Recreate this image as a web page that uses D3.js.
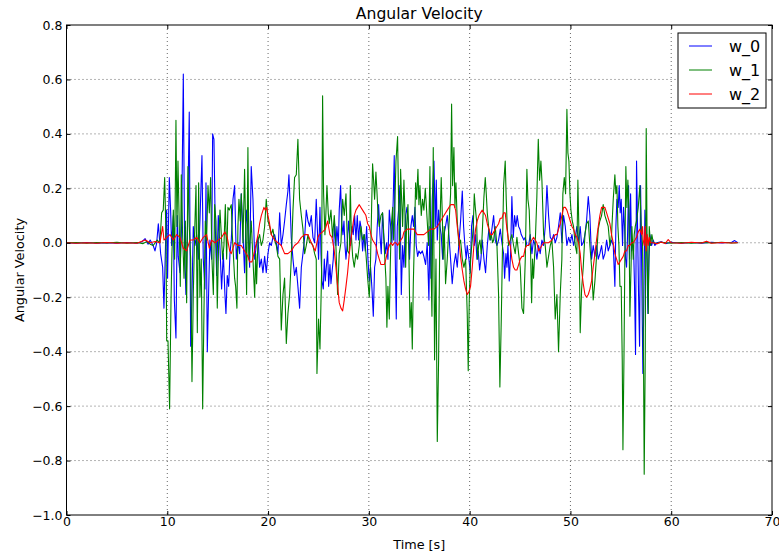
<!DOCTYPE html>
<html>
<head>
<meta charset="utf-8">
<script src="https://cdn.jsdelivr.net/npm/d3@7"></script>
<style>
  body { margin: 0; background: #fff; }
  text { font-family: "DejaVu Sans", sans-serif; fill: #000; }
</style>
</head>
<body>
<div id="chart"></div>
<script>
// Angular velocity samples, [time (s), value]
const w0Data = [
  [0,0.0],[1,-0.002],[2,0.001],[3,-0.002],[4,0.0],[5,-0.002],[6,0.001],[7,-0.002],[7.5,0.004],[7.8,0.015],[8.1,-0.005],[8.3,0.01],[8.6,-0.01],[8.78,-0.03],[8.95,0.0],
  [9.11,0.07],[9.34,-0.04],[9.54,-0.09],[9.67,-0.24],[9.87,0.06],[9.94,0.12],[10.03,-0.13],[10.2,0.24],[10.33,0.12],[10.43,-0.01],[10.6,0.1],[10.7,-0.21],[10.86,-0.35],
  [10.99,0.1],[11.09,-0.05],[11.26,-0.11],[11.42,0.06],[11.59,0.62],[11.72,-0.03],[11.85,-0.19],[11.99,0.02],[12.18,0.48],[12.32,-0.38],[12.45,-0.19],[12.58,0.06],
  [12.75,-0.01],[12.91,0.03],[13.08,-0.06],[13.24,0.08],[13.44,0.32],[13.57,-0.06],[13.74,-0.17],[13.84,0.22],[13.97,-0.4],[14.14,-0.12],[14.23,0.01],[14.4,-0.06],
  [14.5,0.4],[14.63,0.38],[14.76,0.06],[14.9,-0.12],[15.06,0.1],[15.23,-0.02],[15.39,-0.17],[15.56,-0.04],[15.72,-0.19],[15.82,-0.26],[15.95,-0.12],[16.09,-0.16],
  [16.22,-0.04],[16.35,0.01],[16.52,0.16],[16.68,0.21],[16.85,-0.06],[17.01,0.0],[17.18,-0.04],[17.34,0.18],[17.51,0.03],[17.67,-0.11],[17.84,0.12],[18.0,0.05],
  [18.17,-0.09],[18.33,0.28],[18.5,0.16],[18.67,-0.06],[18.83,-0.01],[19.0,0.02],[19.16,-0.09],[19.33,-0.06],[19.49,-0.11],[19.66,-0.05],[19.82,-0.11],[19.99,-0.04],
  [20.15,0.0],[20.32,-0.01],[20.48,0.02],[20.65,0.03],[20.82,0.0],[20.98,-0.04],[21.15,0.11],[21.31,-0.01],[21.48,0.03],[21.64,0.08],[21.81,0.14],[21.97,0.19],
  [22.07,0.25],[22.17,0.16],[22.3,0.02],[22.47,-0.06],[22.63,-0.12],[22.8,-0.09],[22.96,-0.16],[23.13,-0.24],[23.3,-0.09],[23.46,-0.04],[23.63,0.02],[23.79,0.12],
  [23.96,0.08],[24.12,0.06],[24.29,0.1],[24.45,0.02],[24.62,0.0],[24.78,0.16],[24.88,0.06],[25.01,-0.06],[25.15,0.13],[25.25,-0.04],[25.35,-0.14],[25.48,-0.17],
  [25.58,-0.06],[25.68,-0.14],[25.78,-0.09],[25.91,-0.03],[26.01,-0.16],[26.14,-0.08],[26.24,-0.15],[26.34,-0.11],[26.47,-0.06],[26.6,0.07],[26.73,-0.01],[26.83,0.06],
  [26.97,-0.01],[27.06,0.12],[27.2,0.21],[27.3,0.08],[27.43,0.03],[27.53,0.08],[27.63,-0.01],[27.73,-0.06],[27.86,0.0],[27.99,0.08],[28.09,0.03],[28.19,-0.01],
  [28.32,0.06],[28.45,0.03],[28.59,0.1],[28.72,0.01],[28.85,0.1],[28.98,0.01],[29.12,0.08],[29.25,0.05],[29.38,-0.03],[29.51,0.03],[29.64,-0.03],[29.78,0.06],
  [29.91,-0.06],[30.04,-0.14],[30.17,-0.09],[30.31,-0.17],[30.44,-0.27],[30.57,-0.09],[30.7,-0.06],[30.83,0.06],[30.97,0.14],[31.1,0.03],[31.23,-0.04],[31.36,0.11],
  [31.5,0.02],[31.63,-0.04],[31.76,0.0],[31.89,-0.06],[32.03,0.12],[32.16,0.06],[32.29,0.0],[32.42,0.16],[32.52,0.32],[32.62,-0.06],[32.72,-0.28],[32.82,0.06],
  [32.95,0.12],[33.08,0.21],[33.22,-0.19],[33.35,-0.01],[33.48,-0.09],[33.65,0.1],[33.78,0.13],[33.91,0.08],[34.04,-0.06],[34.17,0.06],[34.31,0.1],[34.44,0.06],
  [34.57,0.13],[34.7,-0.01],[34.84,-0.05],[34.97,-0.03],[35.13,-0.04],[35.3,-0.03],[35.46,-0.05],[35.63,-0.08],[35.79,0.0],[35.96,-0.21],[36.06,0.06],[36.16,-0.13],
  [36.29,0.16],[36.46,0.3],[36.59,0.06],[36.69,0.23],[36.79,0.01],[36.92,0.12],[37.05,0.06],[37.18,0.03],[37.32,-0.06],[37.45,0.03],[37.61,0.06],[37.78,0.1],
  [37.94,0.03],[38.11,-0.06],[38.27,-0.15],[38.44,-0.08],[38.61,-0.04],[38.77,-0.09],[38.94,0.0],[39.1,0.08],[39.27,0.19],[39.4,0.06],[39.53,-0.01],[39.66,-0.06],
  [39.76,-0.01],[39.93,-0.06],[40.06,-0.11],[40.19,0.06],[40.33,0.1],[40.46,-0.01],[40.59,0.03],[40.72,-0.06],[40.85,-0.03],[40.99,-0.1],[41.12,-0.06],[41.25,0.01],
  [41.42,-0.06],[41.58,-0.11],[41.75,-0.01],[41.91,0.05],[42.08,0.01],[42.24,0.06],[42.38,0.1],[42.54,0.01],[42.71,-0.01],[42.87,0.01],[43.04,0.05],[43.2,0.0],
  [43.37,-0.04],[43.47,-0.13],[43.6,-0.04],[43.7,-0.09],[43.8,-0.01],[43.93,-0.14],[44.06,-0.04],[44.19,0.17],[44.33,0.02],[44.46,0.1],[44.59,0.06],[44.72,0.1],
  [44.86,0.06],[44.99,0.05],[45.12,0.03],[45.25,0.02],[45.38,0.01],[45.52,0.02],[45.68,-0.01],[45.85,-0.01],[46.01,0.03],[46.18,-0.04],[46.34,0.01],[46.51,-0.01],
  [46.67,-0.06],[46.84,-0.01],[47.0,-0.04],[47.17,0.01],[47.34,-0.01],[47.5,0.06],[47.67,0.21],[47.83,0.1],[48.0,0.02],[48.16,0.01],[48.33,0.03],[48.49,0.0],
  [48.66,0.02],[48.82,0.06],[48.99,0.11],[49.15,0.0],[49.32,0.1],[49.49,0.06],[49.65,-0.01],[49.82,0.02],[49.98,0.0],[50.15,0.03],[50.31,-0.01],[50.48,0.02],
  [50.64,0.06],[50.81,0.0],[50.97,0.06],[51.11,-0.01],[51.27,0.0],[51.44,0.03],[51.6,0.08],[51.77,0.17],[51.93,0.1],[52.1,-0.06],[52.26,-0.01],[52.43,-0.05],
  [52.59,-0.01],[52.76,-0.06],[52.92,-0.04],[53.09,-0.01],[53.25,-0.06],[53.42,-0.04],[53.59,0.01],[53.75,-0.03],[53.92,-0.01],[54.08,0.01],[54.25,-0.01],[54.41,-0.16],
  [54.51,0.06],[54.61,0.16],[54.74,0.13],[54.84,0.21],[54.94,0.11],[55.04,0.16],[55.17,-0.01],[55.27,0.13],[55.37,0.06],[55.47,-0.06],[55.57,-0.09],[55.67,0.03],
  [55.77,0.21],[55.87,-0.06],[55.97,0.18],[56.07,-0.03],[56.16,-0.01],[56.26,-0.01],[56.36,-0.16],[56.46,-0.41],[56.56,0.3],[56.66,0.06],[56.76,-0.19],[56.86,-0.38],
  [56.96,0.21],[57.06,-0.06],[57.19,-0.48],[57.29,-0.19],[57.39,0.12],[57.49,0.06],[57.59,-0.06],[57.69,-0.26],[57.79,-0.06],[57.88,0.03],[58.05,-0.01],[58.22,0.01],
  [58.38,-0.01],[58.55,0.0],[59,0.004],[59.5,-0.003],[60,0.002],[61,-0.002],[62,0.001],[63,-0.002],[64,0.002],[65,-0.001],[66,0.002],[66.3,0.008],[66.6,0.0]
];

const w1Data = [
  [0,0.0],[1,0.001],[2,-0.002],[3,0.001],[4,-0.001],[5,0.002],[6,-0.002],[7,0.001],[7.6,-0.003],[8.0,0.005],[8.3,-0.005],[8.6,-0.01],[9.0,0.01],[9.27,0.0],
  [9.44,0.11],[9.6,0.12],[9.74,0.24],[9.87,0.03],[9.94,-0.36],[10.07,-0.36],[10.23,-0.61],[10.37,-0.21],[10.46,-0.04],[10.6,0.12],[10.73,-0.06],[10.86,0.45],
  [10.96,0.06],[11.06,0.3],[11.19,0.06],[11.29,-0.16],[11.39,0.25],[11.52,0.03],[11.66,-0.13],[11.79,0.08],[11.92,-0.22],[12.05,0.28],[12.18,0.06],[12.32,-0.06],
  [12.45,-0.51],[12.58,-0.19],[12.71,0.03],[12.85,0.21],[12.98,-0.33],[13.11,0.22],[13.24,-0.2],[13.37,-0.06],[13.51,-0.61],[13.64,-0.25],[13.77,0.08],[13.9,0.01],
  [14.04,0.21],[14.17,0.11],[14.3,0.24],[14.43,-0.06],[14.57,-0.19],[14.7,0.14],[14.83,0.08],[14.96,-0.24],[15.09,-0.01],[15.23,0.12],[15.36,0.03],[15.49,-0.06],
  [15.62,-0.01],[15.76,0.14],[15.89,-0.06],[16.02,0.13],[16.15,0.12],[16.35,0.14],[16.45,0.03],[16.58,-0.06],[16.68,-0.13],[16.78,-0.16],[16.91,-0.24],[17.01,0.06],
  [17.11,0.16],[17.24,0.08],[17.34,0.18],[17.51,0.0],[17.67,0.27],[17.77,0.06],[17.87,-0.19],[18.0,0.35],[18.1,-0.06],[18.2,0.0],[18.33,0.08],[18.5,-0.06],
  [18.67,-0.2],[18.77,-0.04],[18.86,-0.15],[19.0,0.01],[19.16,0.03],[19.33,-0.01],[19.49,0.01],[19.66,0.06],[19.82,0.16],[19.99,0.08],[20.15,0.06],[20.32,0.03],
  [20.48,0.05],[20.65,0.01],[20.82,-0.01],[20.98,-0.05],[21.15,-0.06],[21.31,-0.32],[21.48,-0.19],[21.64,-0.13],[21.81,-0.37],[21.97,-0.26],[22.14,-0.19],[22.3,-0.06],
  [22.47,0.12],[22.63,0.24],[22.8,0.25],[22.96,0.38],[23.13,0.16],[23.3,0.1],[23.46,0.05],[23.63,-0.04],[23.79,-0.01],[23.96,0.03],[24.12,0.0],[24.29,0.0],
  [24.45,-0.01],[24.62,-0.04],[24.78,-0.06],[24.85,-0.48],[25.01,-0.28],[25.15,-0.39],[25.31,-0.11],[25.41,0.54],[25.51,0.18],[25.64,0.03],[25.74,0.11],[25.84,0.21],
  [25.97,0.11],[26.07,0.07],[26.24,0.12],[26.4,0.02],[26.57,0.1],[26.73,-0.01],[26.9,-0.19],[27.06,-0.04],[27.23,0.0],[27.4,0.16],[27.56,0.1],[27.73,0.18],
  [27.89,-0.03],[28.06,-0.04],[28.16,0.21],[28.26,0.03],[28.39,-0.05],[28.55,-0.09],[28.72,-0.04],[28.88,-0.06],[29.05,-0.01],[29.21,0.06],[29.38,0.01],[29.55,0.03],
  [29.71,-0.04],[29.88,-0.13],[30.04,-0.2],[30.14,-0.11],[30.27,0.12],[30.37,0.29],[30.47,0.23],[30.57,0.16],[30.7,0.26],[30.8,0.19],[30.9,0.11],[31.03,0.06],
  [31.2,0.1],[31.36,0.11],[31.46,0.03],[31.56,-0.04],[31.69,-0.13],[31.79,-0.31],[31.89,-0.16],[32.03,-0.28],[32.12,-0.09],[32.22,0.06],[32.36,0.13],[32.46,0.01],
  [32.55,0.1],[32.69,0.3],[32.85,0.39],[32.95,0.16],[33.05,-0.06],[33.15,0.27],[33.25,0.16],[33.35,0.06],[33.48,0.23],[33.58,0.11],[33.65,-0.09],[33.74,0.06],
  [33.88,0.14],[33.98,-0.06],[34.08,-0.31],[34.21,-0.22],[34.31,-0.39],[34.41,-0.15],[34.51,0.0],[34.64,0.22],[34.74,0.16],[34.87,0.27],[34.97,0.14],[35.07,0.21],
  [35.2,0.1],[35.33,0.16],[35.46,0.12],[35.6,0.2],[35.7,0.14],[35.79,0.08],[35.93,-0.01],[36.06,0.28],[36.16,-0.06],[36.26,-0.27],[36.39,0.35],[36.52,-0.43],
  [36.66,-0.06],[36.79,-0.73],[36.92,-0.43],[37.05,0.06],[37.18,0.24],[37.28,0.11],[37.38,-0.06],[37.48,0.06],[37.61,-0.15],[37.78,-0.06],[37.94,0.06],[38.11,0.18],
  [38.21,0.51],[38.31,0.21],[38.44,0.35],[38.54,0.13],[38.64,0.22],[38.77,0.08],[38.94,-0.01],[39.1,0.01],[39.27,-0.06],[39.43,-0.09],[39.6,-0.06],[39.76,-0.26],
  [39.86,-0.47],[39.96,-0.21],[40.09,-0.06],[40.26,0.01],[40.36,0.06],[40.46,0.18],[40.56,0.13],[40.69,0.08],[40.79,-0.06],[40.89,-0.01],[41.02,0.01],[41.15,-0.04],
  [41.28,0.06],[41.42,0.17],[41.55,0.24],[41.65,0.18],[41.75,0.11],[41.88,0.06],[42.01,0.01],[42.14,0.03],[42.28,0.0],[42.38,0.01],[42.54,0.06],[42.71,-0.01],
  [42.87,-0.19],[43.0,-0.53],[43.14,-0.28],[43.24,-0.06],[43.37,0.21],[43.53,0.3],[43.63,0.16],[43.73,0.06],[43.86,-0.01],[44.03,0.01],[44.19,0.03],[44.36,-0.01],
  [44.52,-0.04],[44.69,0.02],[44.86,-0.04],[45.02,-0.09],[45.19,-0.24],[45.35,-0.26],[45.52,-0.06],[45.68,0.27],[45.78,0.16],[45.91,0.12],[46.05,-0.04],[46.15,-0.22],
  [46.24,-0.06],[46.34,-0.13],[46.51,0.0],[46.67,0.17],[46.81,0.38],[46.94,0.23],[47.07,0.3],[47.17,0.23],[47.34,0.03],[47.5,-0.01],[47.67,-0.09],[47.83,-0.05],
  [48.0,-0.01],[48.16,0.01],[48.33,-0.09],[48.49,-0.28],[48.66,-0.19],[48.82,-0.4],[48.99,-0.19],[49.15,-0.06],[49.25,0.18],[49.39,0.24],[49.52,0.18],[49.65,0.49],
  [49.75,0.33],[49.85,0.3],[49.95,0.18],[50.05,0.12],[50.18,0.08],[50.31,0.06],[50.48,-0.01],[50.64,-0.04],[50.74,0.23],[50.87,-0.01],[50.97,-0.33],[51.11,-0.17],
  [51.27,-0.09],[51.44,0.03],[51.6,0.07],[51.77,0.08],[51.93,-0.01],[52.1,-0.09],[52.26,-0.21],[52.43,-0.14],[52.59,-0.05],[52.76,0.05],[52.92,0.08],[53.09,0.1],
  [53.25,0.14],[53.42,0.1],[53.59,0.08],[53.75,0.06],[53.92,-0.01],[54.08,0.03],[54.25,0.16],[54.41,0.25],[54.51,0.18],[54.61,0.21],[54.71,0.06],[54.81,-0.01],
  [54.91,-0.16],[55.04,-0.16],[55.14,-0.43],[55.21,-0.76],[55.31,-0.43],[55.4,-0.06],[55.5,0.28],[55.6,0.13],[55.7,0.23],[55.8,0.12],[55.9,-0.27],[56.0,-0.11],
  [56.1,0.06],[56.23,-0.06],[56.33,0.03],[56.43,0.06],[56.56,0.08],[56.73,0.13],[56.89,0.21],[57.02,0.06],[57.16,-0.01],[57.26,-0.48],[57.32,-0.85],[57.42,-0.43],
  [57.52,0.42],[57.62,-0.06],[57.72,-0.26],[57.82,0.06],[57.95,-0.01],[58.08,0.03],[58.22,0.0],[58.5,-0.003],[59,0.002],[60,-0.002],[61,0.001],[62,-0.002],
  [63,0.001],[64,-0.001],[65,0.002],[66,-0.001],[66.6,0.0]
];

const w2Data = [
  [0,0.0],[1,-0.002],[2,0.0],[3,-0.002],[4,0.001],[5,-0.002],[6,0.0],[7,-0.002],[7.8,0.01],[8.3,0.0],[8.8,0.005],[9.27,0.0],[9.54,0.06],[9.67,0.01],[9.94,0.02],
  [10.27,0.03],[10.6,0.01],[10.93,0.03],[11.26,0.02],[11.59,-0.02],[11.92,-0.03],[12.25,0.01],[12.58,0.01],[12.91,0.02],[13.24,0.0],[13.57,0.02],[13.9,0.03],
  [14.17,-0.02],[14.4,0.01],[14.73,0.0],[15.06,0.01],[15.39,0.02],[15.72,0.04],[15.95,0.02],[16.19,-0.03],[16.35,-0.04],[16.68,0.0],[17.01,-0.01],[17.34,-0.01],
  [17.67,-0.03],[18.0,-0.05],[18.17,-0.07],[18.4,-0.07],[18.67,-0.03],[19.0,0.03],[19.16,0.07],[19.33,0.1],[19.59,0.13],[19.72,0.12],[19.86,0.13],[19.99,0.1],
  [20.15,0.07],[20.32,0.03],[20.65,0.01],[20.98,0.0],[21.31,-0.01],[21.64,-0.04],[21.97,-0.04],[22.3,-0.03],[22.63,-0.01],[22.96,0.0],[23.3,0.02],[23.63,0.03],
  [23.96,0.03],[24.29,0.0],[24.55,-0.02],[24.68,-0.03],[24.95,0.02],[25.08,0.03],[25.41,0.04],[25.68,0.05],[25.91,0.08],[26.14,0.03],[26.34,0.02],[26.57,-0.03],
  [26.73,-0.09],[26.9,-0.16],[27.06,-0.22],[27.23,-0.24],[27.4,-0.25],[27.56,-0.21],[27.73,-0.16],[27.89,-0.11],[28.06,-0.04],[28.22,0.01],[28.39,0.06],[28.55,0.1],
  [28.72,0.12],[28.88,0.13],[29.05,0.14],[29.21,0.13],[29.38,0.12],[29.55,0.11],[29.71,0.1],[29.88,0.07],[30.04,0.06],[30.21,0.03],[30.37,0.01],[30.54,0.0],
  [30.7,-0.01],[30.87,-0.04],[31.03,-0.06],[31.2,-0.08],[31.36,-0.08],[31.53,-0.08],[31.69,-0.06],[31.86,-0.03],[32.03,-0.01],[32.19,0.0],[32.36,-0.01],[32.52,0.0],
  [32.69,0.0],[32.85,-0.01],[33.02,0.0],[33.18,0.01],[33.35,0.02],[33.48,0.04],[33.81,0.05],[34.14,0.05],[34.47,0.05],[34.8,0.03],[35.13,0.03],[35.46,0.03],
  [35.79,0.04],[36.13,0.05],[36.46,0.05],[36.79,0.06],[37.12,0.08],[37.45,0.1],[37.78,0.12],[38.11,0.14],[38.44,0.14],[38.61,0.12],[38.77,0.06],[38.94,0.01],
  [39.1,-0.05],[39.27,-0.1],[39.43,-0.14],[39.6,-0.17],[39.76,-0.19],[39.93,-0.18],[40.09,-0.16],[40.26,-0.09],[40.42,-0.01],[40.59,0.05],[40.75,0.08],[40.92,0.1],
  [41.08,0.11],[41.25,0.12],[41.42,0.11],[41.58,0.1],[41.75,0.07],[41.91,0.05],[42.08,0.03],[42.24,0.03],[42.54,0.05],[42.87,0.07],[43.04,0.09],[43.2,0.09],
  [43.37,0.11],[43.53,0.11],[43.7,0.05],[43.86,0.01],[44.03,-0.01],[44.19,-0.06],[44.36,-0.09],[44.52,-0.1],[44.69,-0.1],[44.86,-0.08],[45.02,-0.06],[45.19,-0.05],
  [45.35,-0.05],[45.52,-0.02],[45.68,-0.01],[45.85,-0.01],[46.01,0.0],[46.18,0.01],[46.34,0.02],[46.51,0.01],[46.67,0.0],[46.84,-0.03],[47.0,-0.02],[47.17,-0.01],
  [47.34,0.0],[47.83,0.0],[48.16,0.01],[48.33,0.02],[48.49,0.03],[48.66,0.03],[48.82,0.05],[48.99,0.07],[49.15,0.1],[49.32,0.13],[49.49,0.13],[49.65,0.12],
  [49.82,0.1],[49.98,0.08],[50.15,0.06],[50.31,0.05],[50.48,0.03],[50.64,0.02],[50.81,0.0],[50.97,-0.04],[51.11,-0.1],[51.27,-0.15],[51.44,-0.19],[51.6,-0.2],
  [51.77,-0.19],[51.93,-0.17],[52.1,-0.14],[52.26,-0.09],[52.43,-0.04],[52.59,0.01],[52.76,0.06],[52.92,0.1],[53.09,0.13],[53.25,0.13],[53.42,0.13],[53.59,0.11],
  [53.75,0.09],[53.92,0.07],[54.08,0.03],[54.25,0.0],[54.41,-0.04],[54.58,-0.06],[54.74,-0.08],[54.91,-0.07],[55.07,-0.06],[55.24,-0.05],[55.4,-0.03],[55.57,-0.03],
  [55.74,-0.01],[55.9,-0.01],[56.07,0.0],[56.23,0.0],[56.4,0.01],[56.56,0.02],[56.73,0.04],[56.89,0.05],[57.06,0.03],[57.16,0.06],[57.22,0.01],[57.32,-0.01],
  [57.42,0.06],[57.52,-0.03],[57.62,0.03],[57.72,-0.01],[57.82,0.02],[57.95,0.0],[58.22,0.0],[58.6,-0.004],[59.0,0.003],[59.4,-0.003],[59.7,0.012],[60.0,0.0],
  [61,-0.002],[62,0.002],[63,-0.001],[63.5,0.006],[64,-0.002],[65,0.001],[66,-0.001],[66.6,0.0]
];

const seriesNames = ["w_0", "w_1", "w_2"];
const seriesColors = ["#0000ff", "#008000", "#ff0000"];
const xTicks = [0, 10, 20, 30, 40, 50, 60, 70];
const yTicks = [-1.0, -0.8, -0.6, -0.4, -0.2, 0.0, 0.2, 0.4, 0.6, 0.8];

const width = 779, height = 554;
const margin = { left: 66.5, right: 7, top: 25, bottom: 39 };

const svg = d3.select("#chart").append("svg")
  .attr("width", width)
  .attr("height", height);

svg.append("rect").attr("width", width).attr("height", height).attr("fill", "#fff");

const x = d3.scaleLinear().domain([0, 70]).range([margin.left, width - margin.right]);
const y = d3.scaleLinear().domain([-1.0, 0.8]).range([height - margin.bottom, margin.top]);

// grid (dotted, classic style)
const grid = svg.append("g");
grid.selectAll("line.gx")
  .data(xTicks.slice(1, -1))
  .join("line")
  .attr("x1", d => x(d)).attr("x2", d => x(d))
  .attr("y1", y(0.8)).attr("y2", y(-1.0))
  .attr("stroke", "#000").attr("stroke-width", 0.6).attr("stroke-dasharray", "1,3");
grid.selectAll("line.gy")
  .data(yTicks.slice(1, -1))
  .join("line")
  .attr("x1", x(0)).attr("x2", x(70))
  .attr("y1", d => y(d)).attr("y2", d => y(d))
  .attr("stroke", "#000").attr("stroke-width", 0.6).attr("stroke-dasharray", "1,3");

svg.append("clipPath").attr("id", "plot-clip")
  .append("rect")
  .attr("x", x(0)).attr("y", y(0.8))
  .attr("width", x(70) - x(0)).attr("height", y(-1.0) - y(0.8));

const line = d3.line().x(d => x(d[0])).y(d => y(d[1]));

const lines = svg.append("g").attr("clip-path", "url(#plot-clip)");
[w0Data, w1Data, w2Data].forEach((data, i) => {
  lines.append("path")
    .datum(data)
    .attr("d", line)
    .attr("fill", "none")
    .attr("stroke", seriesColors[i])
    .attr("stroke-width", 1.1)
    .attr("stroke-linejoin", "round");
});

// frame
svg.append("rect")
  .attr("x", x(0)).attr("y", y(0.8))
  .attr("width", x(70) - x(0)).attr("height", y(-1.0) - y(0.8))
  .attr("fill", "none").attr("stroke", "#000").attr("stroke-width", 1);

// axes with inward ticks on all four sides
const tickLen = 4;
svg.append("g")
  .attr("transform", `translate(0,${y(-1.0)})`)
  .call(d3.axisBottom(x).tickValues(xTicks).tickSize(-tickLen).tickPadding(2).tickFormat(d3.format("d")))
  .call(g => g.select(".domain").remove());
svg.append("g")
  .attr("transform", `translate(0,${y(0.8)})`)
  .call(d3.axisTop(x).tickValues(xTicks).tickSize(-tickLen).tickFormat(""))
  .call(g => g.select(".domain").remove());
svg.append("g")
  .attr("transform", `translate(${x(0)},0)`)
  .call(d3.axisLeft(y).tickValues(yTicks).tickSize(-tickLen).tickPadding(4).tickFormat(d => d3.format(".1f")(d).replace("-", "\u2212")))
  .call(g => g.select(".domain").remove());
svg.append("g")
  .attr("transform", `translate(${x(70)},0)`)
  .call(d3.axisRight(y).tickValues(yTicks).tickSize(-tickLen).tickFormat(""))
  .call(g => g.select(".domain").remove());

svg.selectAll(".tick text")
  .style("font-family", "'DejaVu Sans', sans-serif")
  .style("font-size", "12.5px")
  .attr("fill", "#000");
svg.selectAll(".tick line").attr("stroke", "#000");

// titles
svg.append("text")
  .attr("x", (x(0) + x(70)) / 2).attr("y", 18.5)
  .attr("text-anchor", "middle")
  .style("font-size", "15.6px")
  .text("Angular Velocity");
svg.append("text")
  .attr("x", (x(0) + x(70)) / 2).attr("y", 549)
  .attr("text-anchor", "middle")
  .style("font-size", "12.8px")
  .text("Time [s]");
svg.append("text")
  .attr("transform", `translate(23.5,${(y(0.8) + y(-1.0)) / 2}) rotate(-90)`)
  .attr("text-anchor", "middle")
  .style("font-size", "12.8px")
  .text("Angular Velocity");

// legend
const legend = svg.append("g").attr("transform", "translate(678,33)");
legend.append("rect")
  .attr("width", 88).attr("height", 75)
  .attr("fill", "#fff").attr("stroke", "#000").attr("stroke-width", 1);
seriesNames.forEach((name, i) => {
  const cy = 13 + i * 24;
  legend.append("line")
    .attr("x1", 11).attr("x2", 34)
    .attr("y1", cy).attr("y2", cy)
    .attr("stroke", seriesColors[i]).attr("stroke-width", 1);
  legend.append("text")
    .attr("x", 51).attr("y", cy + 6)
    .style("font-size", "16px")
    .text(name);
});
</script>
</body>
</html>
